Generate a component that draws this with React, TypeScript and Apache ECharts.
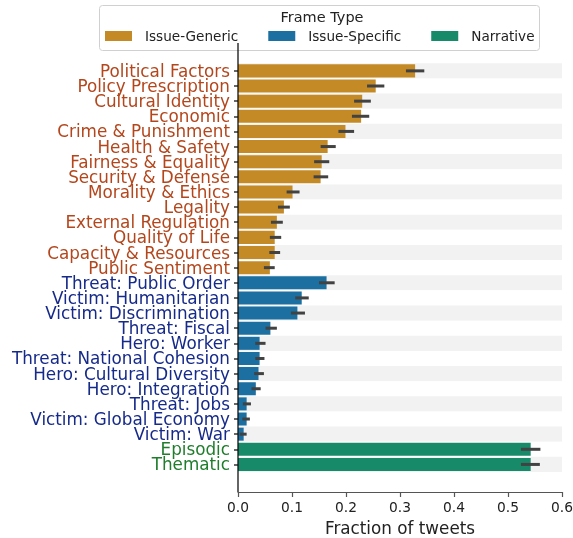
import React, { useEffect, useRef } from "react";
import * as echarts from "echarts";

const categories = [
  "Political Factors", "Policy Prescription", "Cultural Identity", "Economic",
  "Crime & Punishment", "Health & Safety", "Fairness & Equality", "Security & Defense",
  "Morality & Ethics", "Legality", "External Regulation", "Quality of Life",
  "Capacity & Resources", "Public Sentiment",
  "Threat: Public Order", "Victim: Humanitarian", "Victim: Discrimination", "Threat: Fiscal",
  "Hero: Worker", "Threat: National Cohesion", "Hero: Cultural Diversity", "Hero: Integration",
  "Threat: Jobs", "Victim: Global Economy", "Victim: War",
  "Episodic", "Thematic",
];
const groups = [
  "g", "g", "g", "g", "g", "g", "g", "g", "g", "g", "g", "g", "g", "g",
  "s", "s", "s", "s", "s", "s", "s", "s", "s", "s", "s",
  "n", "n",
];
const values = [
  0.328, 0.255, 0.23, 0.228, 0.199, 0.166, 0.155, 0.153, 0.101, 0.085, 0.072, 0.068, 0.068, 0.059,
  0.164, 0.118, 0.11, 0.06, 0.04, 0.04, 0.038, 0.033, 0.016, 0.016, 0.0105,
  0.542, 0.542,
];
const ciLow = [
  0.311, 0.239, 0.215, 0.211, 0.186, 0.153, 0.141, 0.14, 0.09, 0.074, 0.061, 0.059, 0.058, 0.048,
  0.15, 0.106, 0.098, 0.051, 0.032, 0.032, 0.03, 0.025, 0.009, 0.008, 0.003,
  0.524, 0.524,
];
const ciHigh = [
  0.345, 0.271, 0.246, 0.243, 0.215, 0.181, 0.169, 0.167, 0.114, 0.096, 0.083, 0.08, 0.078, 0.068,
  0.179, 0.131, 0.124, 0.072, 0.051, 0.049, 0.048, 0.042, 0.024, 0.022, 0.016,
  0.56, 0.559,
];
const xTicks = [0, 0.1, 0.2, 0.3, 0.4, 0.5, 0.6];
const groupKeys = ["g", "s", "n"];
const groupNames = ["Issue-Generic", "Issue-Specific", "Narrative"];
const barColors = ["#c48a26", "#1b6fa1", "#178a69"];
const labelColors = ["#b4461c", "#162a8a", "#1f7d2c"];

export default function App() {
  const ref = useRef<HTMLDivElement>(null);
  useEffect(() => {
    const chart = echarts.init(ref.current!, null, { renderer: "svg" });
    const barSeries = groupKeys.map((k, gi) => ({
      type: "bar",
      name: groupNames[gi],
      data: values.map((v, i) => (groups[i] === k ? v : "-")),
      itemStyle: { color: barColors[gi] },
      barGap: "-100%",
      barCategoryGap: "14%",
      z: 2,
    }));
    const rich: any = {};
    groupKeys.forEach((k, gi) => {
      rich[k] = { color: labelColors[gi], fontSize: 16.8, lineHeight: 14, fontFamily: "DejaVu Sans" };
    });
    chart.setOption({
      animation: false,
      textStyle: { fontFamily: "DejaVu Sans" },
      grid: { left: 238, right: 11, top: 63.3, bottom: 66, containLabel: false, outerBoundsMode: "none" },
      legend: {
        data: groupNames,
        left: 105,
        top: 29,
        padding: 0,
        itemWidth: 27,
        itemHeight: 10,
        itemGap: 30,
        icon: "rect",
        textStyle: { fontSize: 13.6, color: "#222", padding: [0, 0, 0, 8], fontFamily: "DejaVu Sans" },
      },
      xAxis: {
        type: "value",
        min: 0,
        max: 0.6,
        interval: 0.1,
        offset: 20,
        name: "Fraction of tweets",
        nameLocation: "middle",
        nameGap: 27,
        nameTextStyle: { fontSize: 16.8, color: "#222", fontFamily: "DejaVu Sans" },
        axisLine: { show: true, lineStyle: { color: "#555", width: 1.2 } },
        axisTick: { show: true, length: 5, lineStyle: { color: "#555", width: 1.2 } },
        axisLabel: {
          fontSize: 13.8,
          color: "#222",
          margin: 8,
          formatter: (v: number) => {
            const t = xTicks.find((x) => Math.abs(x - v) < 1e-9);
            return (t !== undefined ? t : v).toFixed(1);
          },
        },
        splitLine: { show: false },
      },
      yAxis: {
        type: "category",
        data: categories,
        inverse: true,
        axisLine: { show: false },
        axisTick: { show: true, interval: 0, length: 4, alignWithLabel: true, lineStyle: { color: "#333", width: 1.5 } },
        axisLabel: {
          interval: 0,
          margin: 8,
          formatter: (v: string) => {
            const i = categories.indexOf(v);
            return `{${groups[i]}|${v}}`;
          },
          rich,
        },
        splitArea: { show: true, interval: 0, areaStyle: { color: ["#f2f2f2", "#ffffff"] } },
        splitLine: { show: false },
      },
      graphic: [
        {
          type: "rect",
          shape: { x: 99.5, y: 5.5, width: 440, height: 45, r: 3 },
          style: { fill: "#fff", stroke: "#d0d0d0", lineWidth: 1 },
          z: 0,
        },
        {
          type: "text",
          x: 322,
          y: 17,
          style: {
            text: "Frame Type",
            fontSize: 14.5,
            fontFamily: "DejaVu Sans",
            fill: "#222",
            textAlign: "center",
            textVerticalAlign: "middle",
          },
          z: 1,
        },
        {
          type: "line",
          shape: { x1: 238, y1: 43, x2: 238, y2: 492 },
          style: { stroke: "#111", lineWidth: 1.3 },
          z: 10,
        },
      ],
      series: [
        ...barSeries,
        {
          type: "custom",
          name: "ci",
          z: 5,
          data: ciLow.map((lo, i) => [lo, ciHigh[i], i]),
          encode: { x: [0, 1], y: 2 },
          renderItem: (params: any, api: any) => {
            const p1 = api.coord([api.value(0), api.value(2)]);
            const p2 = api.coord([api.value(1), api.value(2)]);
            return {
              type: "line",
              shape: { x1: p1[0], y1: p1[1], x2: p2[0], y2: p2[1] },
              style: { stroke: "#424242", lineWidth: 3 },
            };
          },
        },
      ],
    });
    return () => chart.dispose();
  }, []);
  return (
    <div
      ref={ref}
      style={{ position: "fixed", left: 0, top: 0, width: 573, height: 538 }}
    />
  );
}
